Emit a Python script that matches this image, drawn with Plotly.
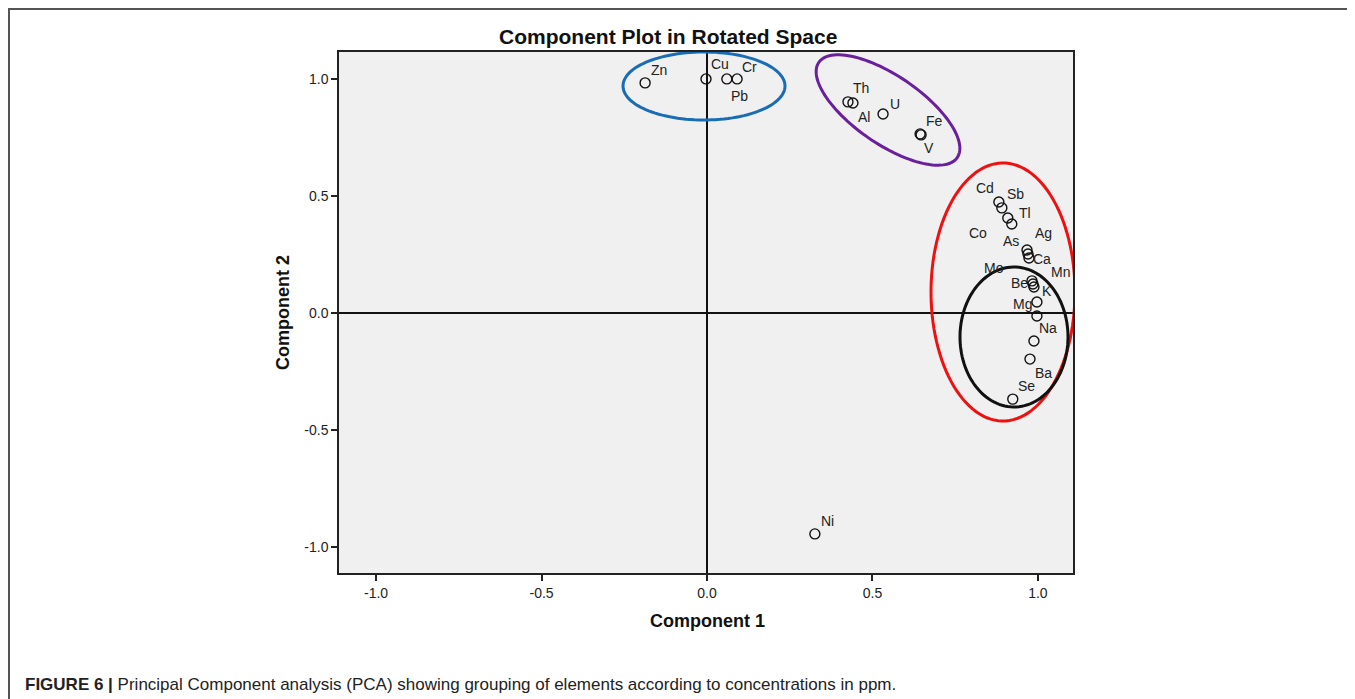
import numpy as np
import plotly.graph_objects as go

# ---- data (rotated component loadings) ----
elements = ["Zn", "Cu", "Pb", "Cr", "Th", "Al", "U", "Fe", "V",
            "Cd", "Sb", "Tl", "As", "Ag", "Ca", "Co", "Mo", "Be", "K",
            "Mg", "Na", "Mn", "Ba", "Se", "Ni"]
comp1 = [-0.187, -0.003, 0.060, 0.091, 0.426, 0.441, 0.532, 0.644, 0.647,
         0.882, 0.891, 0.909, 0.921, 0.967, 0.970, 0.973, 0.982, 0.985, 0.988,
         0.997, 0.997, 0.988, 0.976, 0.924, 0.326]
comp2 = [0.983, 1.000, 1.000, 1.000, 0.902, 0.897, 0.850, 0.765, 0.761,
         0.474, 0.449, 0.406, 0.380, 0.269, 0.252, 0.235, 0.137, 0.124, 0.111,
         0.047, -0.013, -0.120, -0.197, -0.368, -0.944]

tick_vals = [-1.0, -0.5, 0.0, 0.5, 1.0]
tick_text = ["-1.0", "-0.5", "0.0", "0.5", "1.0"]

# ---- label placement (text positions in screen pixels, style only) ----
label_pos = {
    "Zn": (659, 70), "Cu": (720, 64), "Cr": (749, 67), "Pb": (739, 96),
    "Th": (861, 88), "Al": (864, 117), "U": (895, 104), "Fe": (934, 121),
    "V": (929, 148), "Cd": (985, 188), "Sb": (1015, 194), "Tl": (1025, 213),
    "Co": (978, 233), "As": (1011, 241), "Ag": (1043, 233), "Ca": (1042, 259),
    "Mo": (994, 268), "Mn": (1060, 272), "Be": (1019, 283), "K": (1047, 291),
    "Mg": (1022, 304), "Na": (1048, 328), "Ba": (1043, 373), "Se": (1026, 386),
    "Ni": (827, 521),
}

# ---- layout geometry (screen pixels; page body has an 8px margin) ----
OFF = 8
W, H = 1355 - OFF, 699 - OFF
L, R, T, B = 339, 1073, 52, 573
XR = [-1.112, 1.106]
YR = [-1.111, 1.115]


def px_to_data(px, py):
    x = XR[0] + (px - L) / (R - L) * (XR[1] - XR[0])
    y = YR[1] - (py - T) / (B - T) * (YR[1] - YR[0])
    return x, y


def px_to_paper(px, py):
    return (px - L) / (R - L), (B - py) / (B - T)


fig = go.Figure()
fig.add_trace(go.Scatter(
    x=comp1, y=comp2, mode="markers",
    marker=dict(symbol="circle-open", size=10, color="#111",
                line=dict(width=1.4, color="#111")),
    hovertext=elements, hoverinfo="text", showlegend=False,
))

FONT = "Liberation Sans, Arial"
annotations = []
for name, (lx, ly) in label_pos.items():
    dx, dy = px_to_data(lx, ly)
    annotations.append(dict(x=dx, y=dy, xref="x", yref="y", text=name,
                            showarrow=False, xanchor="center", yanchor="middle",
                            font=dict(family=FONT, size=14, color="#222")))


def ellipse_path(cx, cy, a, b, ang_deg, n=120):
    th = np.deg2rad(ang_deg)
    t = np.linspace(0, 2 * np.pi, n)
    px = cx + a * np.cos(th) * np.cos(t) - b * np.sin(th) * np.sin(t)
    py = cy + a * np.sin(th) * np.cos(t) + b * np.cos(th) * np.sin(t)
    pts = [px_to_data(u, v) for u, v in zip(px, py)]
    return "M " + " L ".join(f"{x:.4f},{y:.4f}" for x, y in pts) + " Z"


# ellipses (screen-pixel centre, semi-axes, tilt)
ellipses = [
    (704, 86, 81, 34, 0, "#1a6db5"),
    (888, 110, 84, 34, 34.5, "#6a1f9c"),
    (1003, 292, 72, 129, 0, "#ee1111"),
    (1014, 337, 54, 70, 0, "#111111"),
]
shapes = []
for cx, cy, a, b, ang, col in ellipses:
    shapes.append(dict(type="path", xref="x", yref="y",
                       path=ellipse_path(cx, cy, a, b, ang),
                       line=dict(color=col, width=3), layer="above"))

# outer frame
fx0, fy0 = px_to_paper(9, 9)
fx1, fy1 = px_to_paper(1353, 720)
shapes.append(dict(type="rect", xref="paper", yref="paper",
                   x0=fx0, y0=fy1, x1=fx1, y1=fy0,
                   line=dict(color="#555", width=2)))


def add_text(px, py, text, size, xanchor="center", angle=0, color="#111"):
    x, y = px_to_paper(px, py)
    annotations.append(dict(x=x, y=y, xref="paper", yref="paper", showarrow=False,
                            xanchor=xanchor, yanchor="middle", text=text,
                            textangle=angle,
                            font=dict(family=FONT, size=size, color=color)))


add_text(668, 36, "<b>Component Plot in Rotated Space</b>", 21)
add_text(707, 621, "<b>Component 1</b>", 18)
add_text(283, 313, "<b>Component 2</b>", 18, angle=-90)
add_text(23, 684, "<b>FIGURE 6 |</b> Principal Component analysis (PCA) showing grouping "
         "of elements according to concentrations in ppm.", 17, xanchor="left", color="#222")

axis_common = dict(
    showgrid=False, zeroline=True, zerolinecolor="#111", zerolinewidth=2,
    showline=True, linecolor="#222", linewidth=1.5, mirror=True,
    ticks="outside", ticklen=6, tickwidth=1.5, tickcolor="#222",
    tickvals=tick_vals, ticktext=tick_text,
    tickfont=dict(family=FONT, size=14, color="#222"),
)

fig.update_layout(
    width=W, height=H,
    margin=dict(l=L - OFF, r=W - (R - OFF), t=T - OFF, b=H - (B - OFF)),
    paper_bgcolor="white", plot_bgcolor="#f0f0f0",
    xaxis=dict(range=XR, **axis_common),
    yaxis=dict(range=YR, **axis_common),
    shapes=shapes, annotations=annotations,
    showlegend=False,
)

fig.write_html("out.html")
